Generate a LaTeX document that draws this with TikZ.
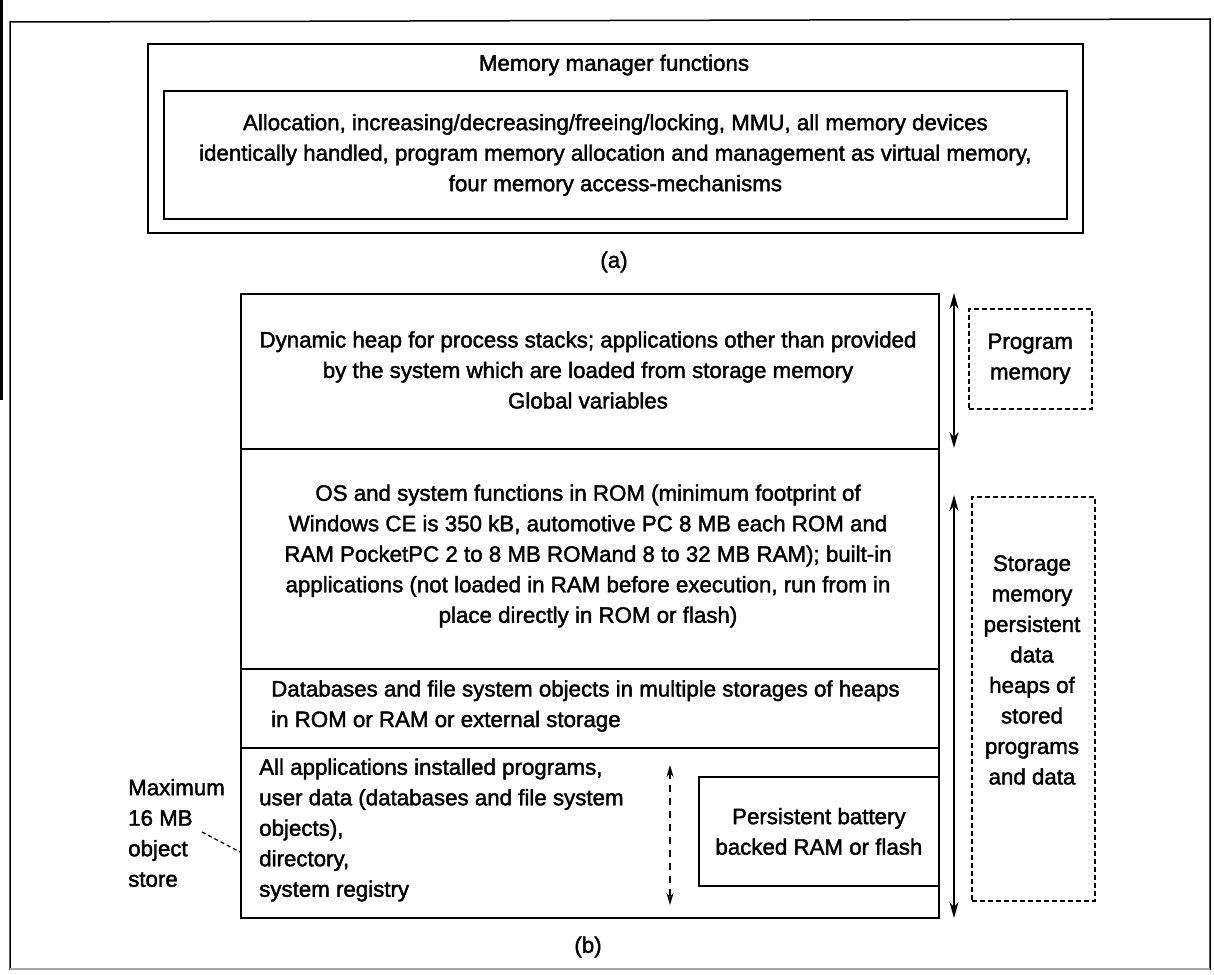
\documentclass[tikz,border=0pt]{standalone}
\usepackage{fontspec}
\setmainfont{Liberation Sans}[UprightFeatures={FakeBold=1.8}]
\usetikzlibrary{arrows.meta}
\tikzset{
  txt/.style={inner sep=0pt, font=\fontsize{22.3}{30.5}\selectfont},
  panel/.style={draw, line width=1.8pt, inner sep=0pt, anchor=north west},
  dashbox/.style={draw, line width=1.5pt, dash pattern=on 5pt off 3pt, inner sep=0pt, anchor=north west},
  span/.style={line width=1.8pt, {Stealth[length=16pt,width=9pt]}-{Stealth[length=16pt,width=9pt]}},
  dspan/.style={line width=1.4pt, dash pattern=on 7pt off 6pt, {Stealth[length=12pt,width=7pt]}-{Stealth[length=12pt,width=7pt]}}
}
\begin{document}
\begin{tikzpicture}[x=1pt,y=-1pt]
\useasboundingbox (0,0) rectangle (1214,974);
\fill[white] (0,0) rectangle (1214,974);

% page frame and scan edge
\fill[black] (0,0) rectangle (3,400);
\draw[line width=1.5pt] (10,970) -- (10,22) -- (1210,19) -- (1210,970);
\draw[line width=1.4pt, black!35] (10,969) -- (1210,969);

% ---------- (a) memory manager ----------
\node[panel, minimum width=935pt, minimum height=189pt] (aOuter) at (147,43) {};
\node[txt] (aTitle) at (614,65) {Memory manager functions};
\node[panel, minimum width=903pt, minimum height=128pt] (aInner) at (163,90) {};
\node[txt, align=center] (aText) at (aInner.center) {Allocation, increasing/decreasing/freeing/locking, MMU, all memory devices\\identically handled, program memory allocation and management as virtual memory,\\four memory access-mechanisms};
\node[txt] (aCap) at (614,262) {(a)};

% ---------- (b) memory map ----------
\node[panel, minimum width=698pt, minimum height=155pt] (b1) at (240,293) {};
\node[panel, minimum width=698pt, minimum height=220pt] (b2) at (240,448) {};
\node[panel, minimum width=698pt, minimum height=79pt] (b3) at (240,668) {};
\node[panel, minimum width=698pt, minimum height=170pt] (b4) at (240,747) {};

\node[txt, align=center] (t1) at (588,370) {Dynamic heap for process stacks; applications other than provided\\by the system which are loaded from storage memory\\Global variables};
\node[txt, align=center] (t2) at (588,556) {OS and system functions in ROM (minimum footprint of\\Windows CE is 350 kB, automotive PC 8 MB each ROM and\\RAM PocketPC 2 to 8 MB ROMand 8 to 32 MB RAM); built-in\\applications (not loaded in RAM before execution, run from in\\place directly in ROM or flash)};
\node[txt, align=left, anchor=west] (t3) at (271,706) {Databases and file system objects in multiple storages of heaps\\in ROM or RAM or external storage};
\node[txt, align=left, anchor=west] (t4) at (259,830) {All applications installed programs,\\user data (databases and file system\\objects),\\directory,\\system registry};

\node[panel, minimum width=240pt, minimum height=109pt] (bat) at (698,776) {};
\node[txt, align=center] (batText) at (bat.center) {Persistent battery\\backed RAM or flash};

% object store span inside the lowest block
\coordinate (osTop) at (670,765);
\coordinate (osBot) at (670,905);
\draw[dspan] (osTop) -- (osBot);

% program / storage spans on the right
\coordinate (pmTop) at (954,293);
\coordinate (pmBot) at (954,448);
\coordinate (smTop) at (954,495);
\coordinate (smBot) at (954,918);
\draw[span] (pmTop) -- (pmBot);
\draw[span] (smTop) -- (smBot);

\node[dashbox, minimum width=123pt, minimum height=100pt] (pm) at (968,308) {};
\node[txt, align=center] (pmText) at (pm.center) {Program\\memory};
\node[dashbox, minimum width=123pt, minimum height=404pt] (sm) at (971,496) {};
\node[txt, align=center] (smText) at (1032,670) {Storage\\memory\\persistent\\data\\heaps of\\stored\\programs\\and data};

% object store note
\node[txt, align=left, anchor=west] (note) at (128,833) {Maximum\\16 MB\\object\\store};
\coordinate (noteEnd) at (202,832);
\coordinate (b4West) at (240,852);
\draw[line width=1.3pt, dash pattern=on 4pt off 3pt] (noteEnd) -- (b4West);

\node[txt] (bCap) at (588,947) {(b)};
\end{tikzpicture}
\end{document}
